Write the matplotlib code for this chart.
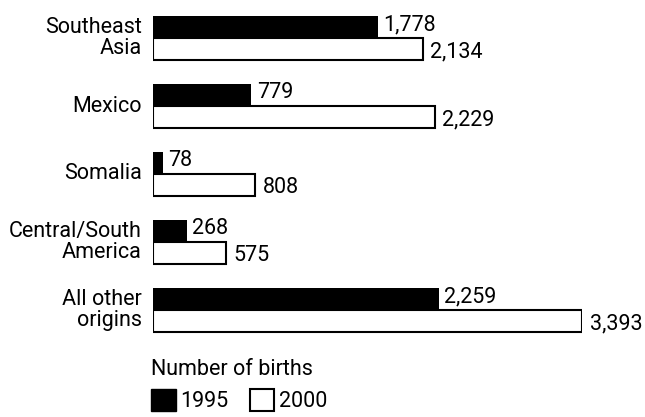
import matplotlib.pyplot as plt
from matplotlib.patches import Patch

plt.rcParams['font.family'] = ['Roboto', 'DejaVu Sans']

origins = ["Southeast\nAsia", "Mexico", "Somalia", "Central/South\nAmerica", "All other\norigins"]
births_1995 = [1778, 779, 78, 268, 2259]
births_2000 = [2134, 2229, 808, 575, 3393]

fs = 15.5
h = 0.33

fig = plt.figure(figsize=(6.45, 4.17), dpi=100)
ax = fig.add_axes([153 / 645, 0, 429 / 645, 1])

y = list(range(len(origins)))
y1 = [i - h / 2 for i in y]
y2 = [i + h / 2 for i in y]

ax.barh(y1, births_1995, height=h, color='black')
ax.barh(y2, births_2000, height=h, facecolor='white', edgecolor='black', linewidth=1.5)

# category names to the left of each pair of bars
for i, name in enumerate(origins):
    ax.annotate(name, xy=(0, y[i]), xytext=(-8, 0), textcoords='offset points',
                ha='right', va='center', fontsize=fs, linespacing=1.05)

# value labels at the end of every bar
for i in y:
    ax.annotate(f'{births_1995[i]:,}', xy=(births_1995[i], y1[i]), xytext=(4, 1.5),
                textcoords='offset points', ha='left', va='center', fontsize=fs)
    ax.annotate(f'{births_2000[i]:,}', xy=(births_2000[i], y2[i]), xytext=(5.5, -2),
                textcoords='offset points', ha='left', va='center', fontsize=fs)

ax.set_xlim(0, max(births_2000))
ax.set_ylim(5.574, -0.559)
ax.axis('off')

handles = [Patch(facecolor='black', edgecolor='black'),
           Patch(facecolor='white', edgecolor='black', linewidth=1.5)]
fig.legend(handles, ['1995', '2000'], title='Number of births', ncol=2,
           loc='upper left', bbox_to_anchor=(151 / 645, 1 - 359 / 417),
           frameon=False, fontsize=fs, title_fontsize=fs, alignment='left',
           handlelength=1.15, handleheight=1.2, handletextpad=0.2,
           columnspacing=1.0, labelspacing=0.4, borderpad=0, borderaxespad=0)

fig.savefig('out.png', dpi=100)
